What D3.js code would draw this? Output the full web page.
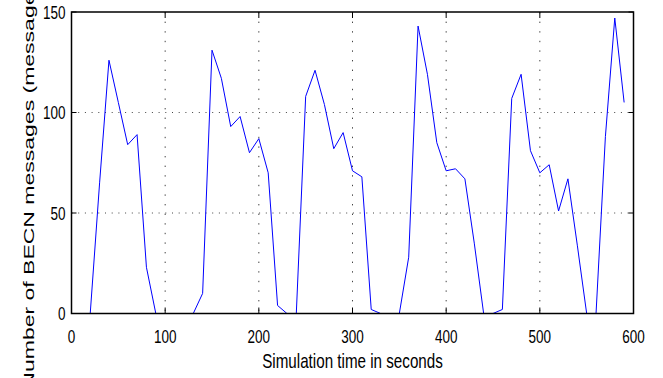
<!DOCTYPE html>
<html>
<head>
<meta charset="utf-8">
<script src="https://cdn.jsdelivr.net/npm/d3@7"></script>
<style>
  html, body { margin: 0; padding: 0; background: #fff; }
  svg { display: block; }
  text { font-family: "Liberation Sans", Arial, Helvetica, sans-serif; fill: #000; }
</style>
</head>
<body>
<svg id="chart" width="663" height="378"></svg>
<script>
// ---- data ----
const times = [10,20,30,40,50,60,70,80,90,100,110,120,130,140,150,160,170,180,190,200,
  210,220,230,240,250,260,270,280,290,300,310,320,330,340,350,360,370,380,390,400,
  410,420,430,440,450,460,470,480,490,500,510,520,530,540,550,560,570,580,590];
const becnMessages = [0,0,65,126,105,84,89,23,0,0,0,0,0,10,131,117,93,98,80,87,
  70,4,0,0,108,121,104,82,90,71,68,2,0,0,0,28,143,119,85,71,
  72,67,35,0,0,2,107,119,81,70,74,51,67,34,0,0,88,147,105];
const xTicks = [0,100,200,300,400,500,600];
const yTicks = [0,50,100,150];
const xLabel = "Simulation time in seconds";
const yLabel = "Number of BECN messages (messages)";

// ---- layout ----
const pLeft = 71.5, pRight = 633.5, pTop = 12, pBottom = 313.5;
const svg = d3.select("#chart");
const x = d3.scaleLinear().domain([0, 600]).range([pLeft, pRight]);
const y = d3.scaleLinear().domain([0, 150]).range([pBottom, pTop]);
const stretch = 1.38;

// grid lines (dotted), inner only
const grid = svg.append("g");
grid.selectAll("line.vg").data(xTicks.filter(d => d > 0 && d < 600)).enter()
  .append("line").attr("class", "vg")
  .attr("x1", d => x(d)).attr("x2", d => x(d))
  .attr("y1", pTop).attr("y2", pBottom)
  .attr("stroke", "#444").attr("stroke-width", 1)
  .attr("stroke-dasharray", "1.4,8.2");
grid.selectAll("line.hg").data(yTicks.filter(d => d > 0 && d < 150)).enter()
  .append("line").attr("class", "hg")
  .attr("x1", pLeft).attr("x2", pRight)
  .attr("y1", d => y(d)).attr("y2", d => y(d))
  .attr("stroke", "#444").attr("stroke-width", 1)
  .attr("stroke-dasharray", "1,5.7");

// tick marks (inside, on all four sides)
const ticks = svg.append("g").attr("stroke", "#000").attr("stroke-width", 1);
xTicks.forEach(d => {
  ticks.append("line").attr("x1", x(d)).attr("x2", x(d)).attr("y1", pBottom).attr("y2", pBottom - 6);
  ticks.append("line").attr("x1", x(d)).attr("x2", x(d)).attr("y1", pTop).attr("y2", pTop + 6);
});
yTicks.forEach(d => {
  ticks.append("line").attr("x1", pLeft).attr("x2", pLeft + 5).attr("y1", y(d)).attr("y2", y(d));
  ticks.append("line").attr("x1", pRight).attr("x2", pRight - 5).attr("y1", y(d)).attr("y2", y(d));
});

// data line
const line = d3.line().x((d, i) => x(times[i])).y(d => y(d));
svg.append("path").datum(becnMessages)
  .attr("d", line)
  .attr("fill", "none")
  .attr("stroke", "#0000ff")
  .attr("stroke-width", 1)
  .attr("stroke-linejoin", "miter");

// axes box
svg.append("rect")
  .attr("x", pLeft).attr("y", pTop)
  .attr("width", pRight - pLeft).attr("height", pBottom - pTop)
  .attr("fill", "none").attr("stroke", "#000").attr("stroke-width", 1.5);

// x tick labels
svg.append("g").selectAll("g").data(xTicks).enter().append("g")
  .attr("transform", d => `translate(${x(d)},343) scale(1,${stretch})`)
  .append("text")
  .attr("text-anchor", "middle")
  .attr("font-size", 13.5)
  .text(d => d);

// y tick labels
svg.append("g").selectAll("g").data(yTicks).enter().append("g")
  .attr("transform", d => `translate(65.5,${y(d) + 6.6}) scale(1,${stretch})`)
  .append("text")
  .attr("text-anchor", "end")
  .attr("font-size", 13.5)
  .text(d => d);

// x axis label
svg.append("g")
  .attr("transform", `translate(${(pLeft + pRight) / 2},368.3) scale(1,${stretch})`)
  .append("text")
  .attr("text-anchor", "middle")
  .attr("font-size", 15.2)
  .text(xLabel);

// y axis label (the reference clips it at both ends of the figure)
svg.append("g")
  .attr("transform", `translate(34.3,181) rotate(-90) scale(1.586,1)`)
  .append("text")
  .attr("text-anchor", "middle")
  .attr("font-size", 14.5)
  .text(yLabel);
</script>
</body>
</html>
